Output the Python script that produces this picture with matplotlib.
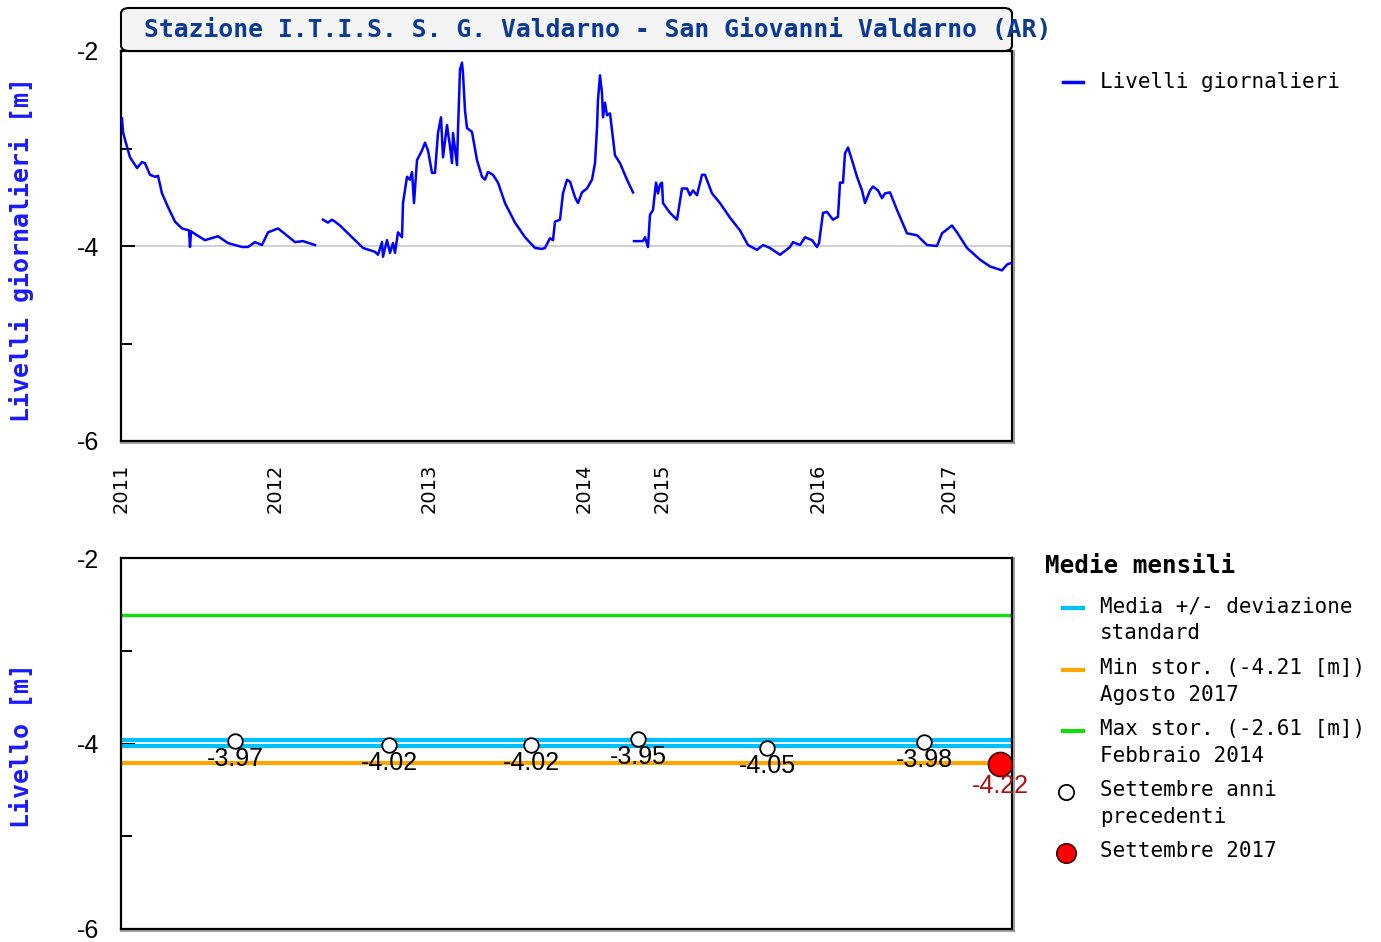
import matplotlib
matplotlib.use("Agg")
import matplotlib.pyplot as plt
import numpy as np
from matplotlib.lines import Line2D
from matplotlib.patches import FancyBboxPatch

plt.rcParams["axes.unicode_minus"] = False
MONO = "DejaVu Sans Mono"
NARROW = ["Liberation Sans Narrow", "Liberation Sans", "DejaVu Sans"]

# --- dati giornalieri (x = indice campione, y = livello [m]); NaN = dati mancanti
seg1_x = [1, 2, 4, 9, 16, 21, 24, 29, 34, 37, 41, 47, 54, 61, 68, 69, 70, 76, 84, 94, 97,
          107, 121, 127, 134, 141, 147, 157, 162, 174, 182, 194]
seg1_y = [-2.69, -2.83, -2.91, -3.09, -3.20, -3.14, -3.15, -3.27, -3.29, -3.28, -3.46, -3.60,
          -3.75, -3.82, -3.84, -4.01, -3.85, -3.89, -3.94, -3.91, -3.90, -3.97, -4.01, -4.01,
          -3.96, -3.99, -3.86, -3.82, -3.86, -3.96, -3.95, -3.99]
seg2_x = [202, 207, 211, 214, 219, 224, 231, 242, 254, 257, 261, 262, 266, 269, 272, 274, 277,
          281, 282, 286, 289, 291, 293, 296, 301, 304, 307, 311, 314, 317, 320, 322, 326, 329,
          331, 332, 336, 337, 339, 341, 342, 344, 346, 351, 356, 361, 364, 367, 372, 377, 384,
          394, 404, 414, 421, 424, 429, 432, 434, 439, 442, 446, 449, 454, 457, 461, 466, 471,
          474, 476, 477, 479, 481, 482, 484, 486, 489, 494, 499, 506, 512]
seg2_y = [-3.73, -3.76, -3.73, -3.75, -3.79, -3.84, -3.91, -4.02, -4.06, -4.09, -3.96, -4.11,
          -3.94, -4.07, -3.97, -4.07, -3.86, -3.91, -3.56, -3.29, -3.32, -3.24, -3.56, -3.12,
          -3.02, -2.94, -3.02, -3.25, -3.25, -2.84, -2.68, -3.09, -2.76, -2.98, -3.15, -2.84,
          -3.17, -2.81, -2.19, -2.12, -2.23, -2.61, -2.79, -2.83, -3.12, -3.29, -3.32, -3.24,
          -3.27, -3.35, -3.56, -3.76, -3.91, -4.02, -4.03, -4.02, -3.92, -3.94, -3.75, -3.73,
          -3.46, -3.32, -3.34, -3.50, -3.56, -3.45, -3.41, -3.32, -3.15, -2.79, -2.50, -2.25,
          -2.43, -2.68, -2.53, -2.66, -2.64, -3.07, -3.15, -3.32, -3.45]
seg3_x = [513, 522, 524, 527, 529, 532, 535, 537, 539, 541, 542, 549, 556, 561, 566, 569, 572,
          576, 581, 584, 591, 599, 609, 619, 627, 636, 642, 649, 659, 669, 672, 679, 684, 691,
          696, 698, 702, 706, 712, 717, 719, 722, 724, 727, 731, 736, 741, 744, 749, 752, 757,
          761, 764, 769, 776, 786, 796, 806, 816, 821, 831, 836, 846, 859, 869, 881, 886, 891]
seg3_y = [-3.95, -3.95, -3.91, -4.01, -3.68, -3.63, -3.35, -3.46, -3.37, -3.35, -3.56, -3.66,
          -3.73, -3.41, -3.41, -3.48, -3.43, -3.48, -3.27, -3.27, -3.46, -3.56, -3.71, -3.84,
          -3.99, -4.04, -3.99, -4.02, -4.09, -4.01, -3.96, -3.99, -3.91, -3.94, -4.01, -3.97,
          -3.66, -3.65, -3.73, -3.70, -3.35, -3.35, -3.05, -2.99, -3.12, -3.29, -3.43, -3.56,
          -3.43, -3.39, -3.43, -3.51, -3.46, -3.45, -3.63, -3.87, -3.89, -3.99, -4.00, -3.87,
          -3.79, -3.86, -4.02, -4.14, -4.21, -4.25, -4.19, -4.17]
x_end = 891
year_pos = [0, 154, 308, 463, 541, 697, 828]
year_lab = ["2011", "2012", "2013", "2014", "2015", "2016", "2017"]

# --- medie mensili di settembre
sett_x = [114, 268, 410, 517, 646, 803]
sett_y = [-3.97, -4.02, -4.02, -3.95, -4.05, -3.98]
cur_x, cur_y = 879, -4.22
media_lo, media_hi = -4.03, -3.96
min_stor, max_stor = -4.21, -2.61

legend_labels = ["Media +/- deviazione\nstandard", "Min stor. (-4.21 [m])\nAgosto 2017",
                 "Max stor. (-2.61 [m])\nFebbraio 2014", "Settembre anni\nprecedenti",
                 "Settembre 2017"]

W, H = 1381, 942
fig = plt.figure(figsize=(W / 100, H / 100), dpi=100)
L, R = 121 / W, 1012 / W

def fy(py):
    return 1 - py / H

# ---------------- grafico superiore
ax1 = fig.add_axes([L, fy(441), R - L, fy(51) - fy(441)])
xs = seg1_x + [np.nan] + seg2_x + [np.nan] + seg3_x
ys = seg1_y + [np.nan] + seg2_y + [np.nan] + seg3_y
ax1.plot(xs, ys, color="#0000ff", lw=1.8, zorder=3)
ax1.set_xlim(0, x_end)
ax1.set_ylim(-6, -2)
ax1.set_yticks([-6, -4, -2])
ax1.set_yticks([-5, -3], minor=True)
ax1.set_xticks(year_pos)
ax1.set_xticklabels(year_lab, rotation=90, family="DejaVu Sans", fontsize=14)
ax1.tick_params(axis="x", length=0, pad=16)
ax1.grid(axis="y", color="#c8c8c8", lw=1.2, zorder=1)

# titolo in riquadro
box = FancyBboxPatch((L, fy(51)), R - L, fy(8) - fy(51), boxstyle="round,pad=0,rounding_size=0.006",
                     transform=fig.transFigure, fc="#f4f4f4", ec="black", lw=1.5, zorder=0)
fig.patches.append(box)
fig.text(598 / W, fy(30), "Stazione I.T.I.S. S. G. Valdarno - San Giovanni Valdarno (AR)",
         ha="center", va="center", family=MONO, weight="bold", fontsize=17.7, color="#0b3a94")

# ---------------- grafico inferiore
ax2 = fig.add_axes([L, fy(929), R - L, fy(558) - fy(929)])
ax2.set_xlim(0, x_end)
ax2.set_ylim(-6, -2)
ax2.set_yticks([-6, -4, -2])
ax2.set_yticks([-5, -3], minor=True)
ax2.set_xticks([])
ax2.axhline(max_stor, color="#11dd11", lw=2.4, zorder=2)
ax2.axhline(min_stor, color="#ffa500", lw=3, zorder=2)
ax2.axhline(media_hi, color="#00bfff", lw=3, zorder=2)
ax2.axhline(media_lo, color="#00bfff", lw=3, zorder=2)
ax2.scatter(sett_x, sett_y, s=110, facecolor="white", edgecolor="black", lw=1.3, zorder=4)
for x, y in zip(sett_x, sett_y):
    ax2.annotate(f"{y:.2f}", (x, y), xytext=(0, -13), textcoords="offset points",
                 ha="center", va="center", family=NARROW, fontsize=18, color="black", zorder=5)
ax2.scatter([cur_x], [cur_y], s=300, facecolor="#ff0000", edgecolor="#400000", lw=1.2, zorder=4)
ax2.annotate(f"{cur_y:.2f}", (cur_x, cur_y), xytext=(0, -16), textcoords="offset points",
             ha="center", va="center", family=NARROW, fontsize=18, color="#aa1111", zorder=5,
             annotation_clip=False)

for ax in (ax1, ax2):
    for s in ax.spines.values():
        s.set_linewidth(1.6)
        s.set_color("black")
    ax.tick_params(axis="y", which="both", direction="in", length=8, width=1.4, pad=16)
    ax.tick_params(axis="y", which="major", length=10)
    for t in ax.get_yticklabels():
        t.set_family(NARROW)
        t.set_fontsize(18)
    # ombra grigia a destra e in basso
    pos = ax.get_position()
    fig.add_artist(Line2D([pos.x1 + 2 / W] * 2, [pos.y0 - 2 / H, pos.y1],
                          color="#8a8a8a", lw=1.2))
    fig.add_artist(Line2D([pos.x0, pos.x1 + 2 / W], [pos.y0 - 2 / H] * 2,
                          color="#8a8a8a", lw=1.2))

fig.text(22 / W, fy(249), "Livelli giornalieri [m]", rotation=90, ha="center", va="center",
         family=MONO, weight="bold", fontsize=18, color="#1a1aff")
fig.text(22 / W, fy(745), "Livello [m]", rotation=90, ha="center", va="center",
         family=MONO, weight="bold", fontsize=18, color="#1a1aff")

# ---------------- legende
fig.add_artist(Line2D([1063 / W, 1083 / W], [fy(82), fy(82)], color="#0000ff", lw=2.5))
fig.text(1100 / W, fy(82), "Livelli giornalieri", va="center", family=MONO, fontsize=15)

fig.text(1045 / W, fy(566), "Medie mensili", va="center", family=MONO, weight="bold", fontsize=17.5)
item_y = [608, 670, 731, 792, 853]
line_cols = ["#00bfff", "#ffa500", "#11dd11"]
for i, (lab, py) in enumerate(zip(legend_labels, item_y)):
    if i < 3:
        fig.add_artist(Line2D([1063 / W, 1083 / W], [fy(py), fy(py)], color=line_cols[i], lw=3))
    elif i == 3:
        fig.add_artist(Line2D([1066 / W], [fy(py)], marker="o", ms=11, mfc="white", mec="black", mew=1.3))
    else:
        fig.add_artist(Line2D([1066 / W], [fy(py)], marker="o", ms=14, mfc="#ff0000", mec="#400000", mew=1.2))
    fig.text(1100 / W, fy(py) + 0.0125, lab, va="top", family=MONO, fontsize=15, linespacing=1.4)

fig.savefig("out.png", dpi=100)
